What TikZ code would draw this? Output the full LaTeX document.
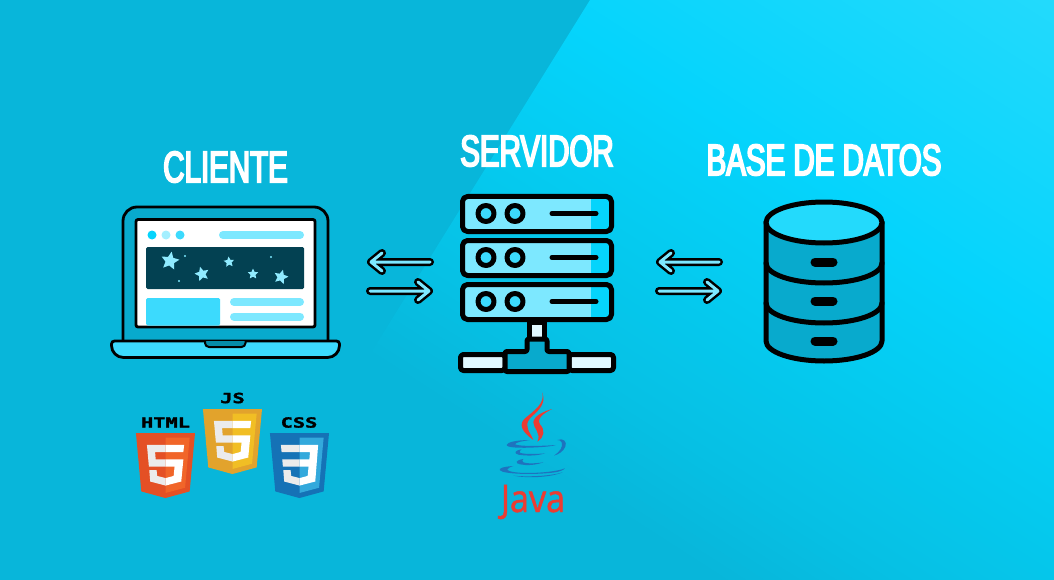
\documentclass[tikz,border=0pt]{standalone}
\usepackage{fontspec}
\usetikzlibrary{shapes.geometric}
\newfontfamily\titlefont[FakeStretch=0.67,FakeBold=4]{Liberation Sans}
\newfontfamily\slabfont[FakeStretch=1.45,FakeBold=2]{DejaVu Sans Mono Bold}
\newfontfamily\javafont[FakeStretch=0.9,FakeBold=1.2]{Open Sans}
\definecolor{bgdark}{RGB}{8,182,218}
\definecolor{bglow}{RGB}{6,192,228}
\definecolor{bgmid}{RGB}{5,203,240}
\definecolor{bgbright}{RGB}{5,212,252}
\definecolor{bglight}{RGB}{35,218,252}
\definecolor{ink}{RGB}{0,0,0}
\definecolor{body}{RGB}{8,170,205}
\definecolor{pale}{RGB}{125,232,255}
\definecolor{sky}{RGB}{60,218,253}
\definecolor{ice}{RGB}{225,248,255}
\definecolor{night}{RGB}{3,65,82}
\definecolor{hinge}{RGB}{5,140,170}
\definecolor{jred}{RGB}{235,60,50}
\definecolor{jblue}{RGB}{30,115,190}
\pgfdeclareverticalshading{bgfade}{100bp}{color(0bp)=(bgdark);color(45bp)=(bgdark);color(48.5bp)=(bglow);color(53.9bp)=(bgmid);color(58.9bp)=(bgbright);color(69bp)=(bglight);color(100bp)=(bglight)}
\tikzset{
  title/.style={text=white,font=\titlefont\fontsize{44}{44}\selectfont,inner sep=0pt},
  tag/.style={text=ink,font=\slabfont\fontsize{14}{14}\selectfont,inner sep=0pt},
  outline/.style={draw=ink,line width=5pt,line join=round,line cap=round},
  thin outline/.style={draw=ink,line width=2.8pt},
  pill/.style={line cap=round,line width=8pt},
  arrowout/.style={draw=ink,line width=8pt,line cap=round,line join=round},
  arrowin/.style={draw=pale,line width=3pt,line cap=round,line join=round},
  shieldlogo/.pic={
    \fill[shieldout] (71,460) -- (30,0) -- (481,0) -- (440,460) -- (255,512) -- cycle;
    \fill[shieldin] (256,472) -- (405,431) -- (440,37) -- (256,37) -- cycle;
  },
  five/.pic={
    \fill[black!8] (114,94) -- (256,94) -- (256,150) -- (176,150) -- (181,208) -- (256,208) -- (256,265) -- (129,265) -- cycle
      (132,293) -- (188,293) -- (192,338) -- (256,355) -- (256,414) -- (139,382) -- cycle;
    \fill[white] (256,94) -- (398,94) -- (392,150) -- (256,150) -- cycle
      (256,208) -- (392,208) -- (376,382) -- (256,414) -- (256,355) -- (318,338) -- (325,265) -- (256,265) -- cycle;
  },
  three/.pic={
    \fill[black!8] (114,94) -- (256,94) -- (256,150) -- (119,150) -- cycle
      (124,208) -- (256,208) -- (256,265) -- (129,265) -- cycle
      (132,293) -- (188,293) -- (192,338) -- (256,355) -- (256,414) -- (139,382) -- cycle;
    \fill[white] (256,94) -- (398,94) -- (376,382) -- (256,414) -- (256,355) -- (318,338) -- (325,265) -- (256,265)
      -- (256,208) -- (331,208) -- (336,150) -- (256,150) -- cycle;
  }
}
\newcommand{\swaparrow}[2]{%
  \draw[#1] (#2,262) -- ++(-59,0) -- ++(11,-9) ++(-11,9) -- ++(11,9);
  \draw[#1] (#2-60,291) -- ++(59,0) -- ++(-11,-9) ++(11,9) -- ++(-11,9);
}
\begin{document}
\begin{tikzpicture}[x=1pt,y=-1pt]
\useasboundingbox (0,0) rectangle (1054,580);
\fill[bgdark] (0,0) rectangle (1054,580);
\begin{scope}
  \clip (590,0) -- (1054,0) -- (1054,580) -- (230,580) -- cycle;
  \shade[shading=bgfade,shading angle=-32.7] (-173,-410) rectangle (1227,990);
\end{scope}
% titles
\node[title] (cliente) at (225.5,167) {CLIENTE};
\node[title] (servidor) at (537,151) {SERVIDOR};
\node[title] (datos) at (824,160) {BASE DE DATOS};
% laptop
\draw[thin outline,fill=body,rounded corners=14pt] (123,341) -- (123,207) -- (328,207) -- (328,341);
\draw[thin outline,fill=white,rounded corners=2pt] (136,219.5) rectangle (315,327);
\fill[bgbright] (152,235) circle[radius=4.5];
\fill[pale!70!white] (166,235) circle[radius=4.5];
\fill[sky] (180,235) circle[radius=4.5];
\draw[pill,pale] (223,235) -- (300,235);
\fill[night,rounded corners=1.5pt] (146,247) rectangle (304,289);
\foreach \n/\px/\py/\sz/\rot in {a/170/261/19/-10,b/229/262/11/5,c/202/274/15/15,d/253/274/11/0,e/281/277/15/-15}
  \node[star,star points=5,star point ratio=2.1,fill=pale!85!white,inner sep=0pt,minimum size=\sz pt,rotate=\rot] (star\n) at (\px,\py) {};
\foreach \px/\py in {185/256,271/257,179/281}
  \fill[pale] (\px,\py) circle[radius=1.2];
\fill[sky,rounded corners=1.5pt] (146,298) rectangle (220,325.5);
\draw[pill,pale] (234,302) -- (300,302);
\draw[pill,pale] (234,316.5) -- (300,316.5);
\draw[thin outline,fill=sky,rounded corners=3pt] (111.5,341) -- (339.5,341) [rounded corners=12pt] -- (339.5,357.5) -- (111.5,357.5) [rounded corners=3pt] -- cycle;
\draw[draw=ink,line width=2pt,fill=hinge,rounded corners=4pt] (205,341) -- (205,347) -- (245.5,347) -- (245.5,341);
% first pair of arrows
\swaparrow{arrowout}{430}
\swaparrow{arrowin}{430}
% server
\foreach \y in {196.5,240.5,284.5} {
  \begin{scope}
    \clip[rounded corners=5pt] (462.5,\y) rectangle (611.5,\y+35);
    \fill[pale] (462.5,\y) rectangle (591,\y+35);
    \fill[bgbright] (591,\y) rectangle (611.5,\y+35);
  \end{scope}
  \draw[outline,rounded corners=5pt] (462.5,\y) rectangle (611.5,\y+35);
  \draw[outline,fill=sky] (486,\y+17) circle[radius=8];
  \draw[outline,fill=sky] (515,\y+17) circle[radius=8];
  \draw[outline] (552,\y+17) -- (596,\y+17);
}
\draw[outline,fill=ice] (529.5,322) rectangle (544.5,339);
\draw[outline,fill=ice,rounded corners=3pt] (460.5,354.5) rectangle (505,370.5);
\draw[outline,fill=ice,rounded corners=3pt] (569,354.5) rectangle (613.5,370.5);
\draw[outline,fill=body,rounded corners=2pt] (527,339) -- (547,339) -- (547,351.5) -- (569,351.5) -- (569,371.5) -- (505,371.5) -- (505,351.5) -- (527,351.5) -- cycle;
% second pair of arrows
\swaparrow{arrowout}{719}
\swaparrow{arrowin}{719}
% database
\draw[outline,fill=body] (766,222) -- (766,341) arc[start angle=180,end angle=0,x radius=58,y radius=20] -- (882,222) -- cycle;
\draw[outline] (766,263) arc[start angle=180,end angle=0,x radius=58,y radius=20];
\draw[outline] (766,303) arc[start angle=180,end angle=0,x radius=58,y radius=20];
\draw[outline,fill=bglight] (824,222.5) ellipse[x radius=58,y radius=20.5];
\foreach \y in {262,301,341}
  \draw[pill,ink,line width=9pt] (815,\y) -- (833,\y);
% logos
\node[tag] (html) at (165.5,422.5) {HTML};
\node[tag] (js) at (232.5,398) {JS};
\node[tag] (css) at (299,422.5) {CSS};
\path[shieldout/.style={fill={rgb,255:red,228;green,80;blue,37}},shieldin/.style={fill={rgb,255:red,241;green,101;blue,41}}]
  (132,433) pic[xscale=.131,yscale=.127] {shieldlogo} pic[xscale=.131,yscale=.127] {five};
\path[shieldout/.style={fill={rgb,255:red,226;green,163;blue,44}},shieldin/.style={fill={rgb,255:red,241;green,190;blue,36}}]
  (199,409) pic[xscale=.131,yscale=.127] {shieldlogo} pic[xscale=.131,yscale=.127] {five};
\path[shieldout/.style={fill={rgb,255:red,21;green,114;blue,182}},shieldin/.style={fill={rgb,255:red,51;green,169;blue,220}}]
  (266,433) pic[xscale=.131,yscale=.127] {shieldlogo} pic[xscale=.131,yscale=.127] {three};
% java
\begin{scope}[shift={(480,385)},x=.3333pt,y=-.3333pt]
  \fill[jred] (187,22) .. controls (195,55) and (165,75) .. (135,100) .. controls (115,118) and (125,140) .. (160,165)
    .. controls (150,140) and (130,125) .. (150,100) .. controls (172,78) and (200,60) .. (187,22) -- cycle;
  \fill[jred] (216,72) .. controls (190,80) and (162,92) .. (160,112) .. controls (160,130) and (185,145) .. (172,170)
    .. controls (195,155) and (195,135) .. (180,118) .. controls (170,100) and (190,85) .. (216,72) -- cycle;
  \fill[jblue] (150,165) .. controls (110,165) and (80,172) .. (80,180) .. controls (80,188) and (120,190) .. (170,187)
    .. controls (195,186) and (220,183) .. (228,180) .. controls (190,183) and (120,185) .. (105,178) .. controls (105,172) and (130,168) .. (150,165) -- cycle;
  \fill[jblue] (232,165) .. controls (250,158) and (262,170) .. (256,185) .. controls (250,200) and (235,208) .. (222,212)
    .. controls (240,200) and (250,185) .. (245,172) .. controls (243,167) and (238,165) .. (232,165) -- cycle;
  \fill[jblue] (125,193) .. controls (105,196) and (100,205) .. (115,209) .. controls (140,213) and (170,213) .. (195,205)
    .. controls (165,208) and (130,208) .. (120,203) .. controls (118,200) and (120,196) .. (125,193) -- cycle;
  \fill[jblue] (130,222) .. controls (105,226) and (105,235) .. (120,238) .. controls (140,242) and (165,241) .. (190,232)
    .. controls (165,236) and (140,236) .. (130,232) .. controls (125,230) and (127,225) .. (130,222) -- cycle;
  \fill[jblue] (100,243) .. controls (70,245) and (55,250) .. (60,256) .. controls (70,268) and (170,270) .. (225,262)
    .. controls (240,260) and (250,255) .. (255,250) .. controls (235,258) and (190,264) .. (140,264)
    .. controls (105,264) and (80,258) .. (82,253) .. controls (85,249) and (90,246) .. (100,243) -- cycle;
  \fill[jblue] (100,272) .. controls (140,280) and (210,278) .. (248,262) .. controls (215,272) and (150,277) .. (100,272) -- cycle;
\end{scope}
\node[text=jred,font=\javafont\fontsize{38}{38}\selectfont,inner sep=0pt,anchor=base] (java) at (533,512) {Java};
\end{tikzpicture}
\end{document}
